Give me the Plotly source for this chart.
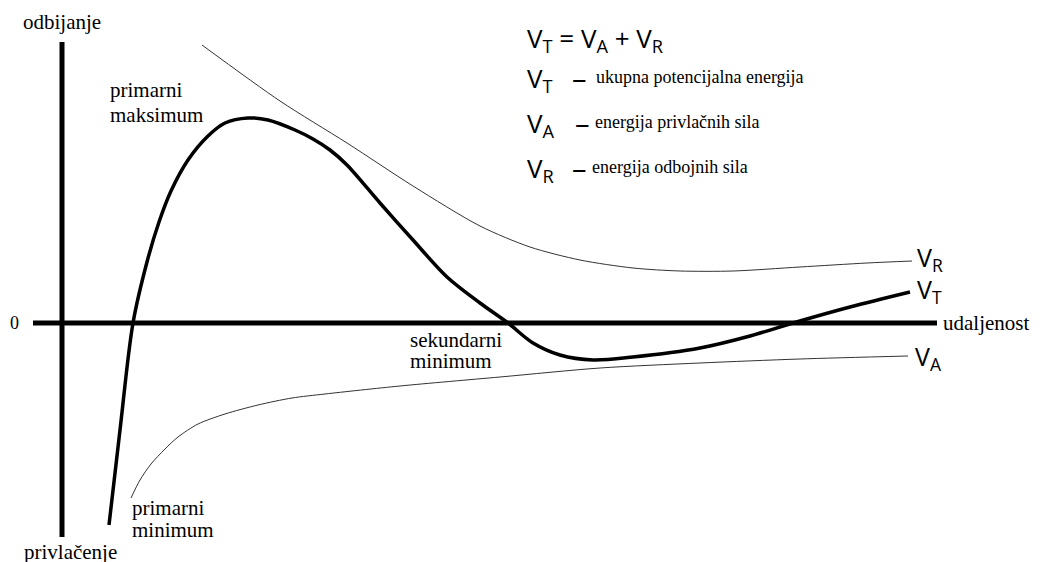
import plotly.graph_objects as go

# udaljenost (x) i energija (y), 0 = sjeciste osi
vr_x = [140, 218, 285, 351, 418, 468, 518, 571, 618, 671, 738, 805, 850]
vr_y = [278, 222, 180, 137, 97, 76, 63, 55, 52, 52, 56, 60, 62]

vt_x = [47, 58, 71, 85, 97, 109, 126, 146, 163, 186, 206, 233, 251, 268, 285, 318, 351,
        385, 418, 446, 471, 498, 531, 571, 638, 688, 731, 788, 848]
vt_y = [-202, -107, 0, 61, 101, 132, 163, 187, 200, 205, 203, 193, 184, 173, 158, 120, 83,
        46, 20, 0, -20, -32, -37, -34, -25, -13, 0, 16, 31]

va_x = [69, 78, 89, 103, 116, 136, 163, 196, 230, 263, 338, 438, 538, 638, 738, 846]
va_y = [-175, -157, -141, -126, -114, -101, -91, -82, -75, -71, -63, -54, -45, -40, -36, -33]

SERIF = "Liberation Serif, Times New Roman, serif"
SANS = "Open Sans, Calibri, sans-serif"

fig = go.Figure()

fig.add_trace(go.Scatter(x=vr_x, y=vr_y, mode="lines",
                         line=dict(color="#333333", width=1, shape="spline", smoothing=0.8)))
fig.add_trace(go.Scatter(x=va_x, y=va_y, mode="lines",
                         line=dict(color="#333333", width=1, shape="spline", smoothing=0.8)))
fig.add_trace(go.Scatter(x=vt_x, y=vt_y, mode="lines",
                         line=dict(color="black", width=3.5, shape="spline", smoothing=0.9)))

# osi
fig.add_shape(type="line", x0=0, x1=0, y0=-214, y1=281,
              line=dict(color="black", width=5))
fig.add_shape(type="line", x0=-29, x1=875, y0=0, y1=0,
              line=dict(color="black", width=5))

ann = []

def txt(x, y, s, size=21, font=SERIF, anchor="left"):
    ann.append(dict(x=x, y=y, text=s, showarrow=False, xanchor=anchor,
                    yanchor="middle", font=dict(family=font, size=size, color="black")))

txt(0, 301, "odbijanje", size=21, anchor="center")
txt(8, -229, "privlačenje", size=21, anchor="center")
txt(-48, 0, "0", size=18, anchor="center")
txt(879, 0, "udaljenost", size=21)
txt(46, 233, "primarni")
txt(46, 208, "maksimum")
txt(346, -17, "sekundarni")
txt(346, -38, "minimum")
txt(68, -185, "primarni")
txt(68, -207, "minimum")

txt(853, 65, "V<sub>R</sub>", size=25, font=SANS)
txt(853, 33, "V<sub>T</sub>", size=25, font=SANS)
txt(851, -34, "V<sub>A</sub>", size=25, font=SANS)

txt(463, 284, "V<sub>T</sub> = V<sub>A</sub> + V<sub>R</sub>", size=26, font=SANS)
txt(463, 244, "V<sub>T</sub>", size=26, font=SANS)
txt(463, 199, "V<sub>A</sub>", size=26, font=SANS)
txt(463, 154, "V<sub>R</sub>", size=26, font=SANS)
txt(508, 246, "–", size=29, font=SANS)
txt(511, 201, "–", size=29, font=SANS)
txt(508, 156, "–", size=29, font=SANS)
txt(532, 246, "ukupna potencijalna energija", size=18)
txt(531, 201, "energija privlačnih sila", size=18)
txt(528, 156, "energija odbojnih sila", size=18)

fig.update_layout(
    width=1040, height=562,
    margin=dict(l=0, r=0, t=0, b=0),
    plot_bgcolor="white", paper_bgcolor="white",
    showlegend=False,
    annotations=ann,
    xaxis=dict(range=[-54, 986], visible=False),
    yaxis=dict(range=[-247, 315], visible=False),
)

fig.write_html("out.html")
